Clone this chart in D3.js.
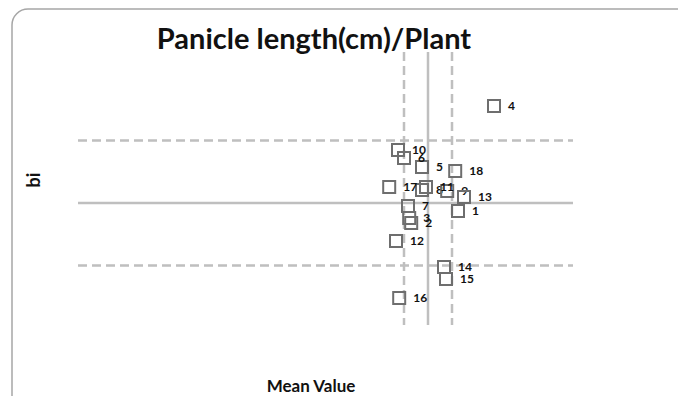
<!DOCTYPE html>
<html>
<head>
<meta charset="utf-8">
<title>Panicle length(cm)/Plant</title>
<script src="https://cdn.jsdelivr.net/npm/d3@7"></script>
<style>
  * { margin: 0; padding: 0; }
  body { background: #fff; }
  text { font-family: Lato, "Open Sans", sans-serif; font-weight: bold; fill: #111; }
</style>
</head>
<body>
<div id="chart"></div>
<script>
// genotypes, their mean panicle length and regression coefficient (bi)
var genotypes = ["1","2","3","4","5","6","7","8","9","10","11","12","13","14","15","16","17","18"];
var meanVals  = [26.75,25.58,25.53,27.65,25.85,25.40,25.50,25.85,26.48,25.25,25.95,25.20,26.90,26.40,26.45,25.28,25.03,26.68];
var biVals    = [0.936,0.840,0.880,1.776,1.288,1.360,0.976,1.104,1.096,1.424,1.128,0.696,1.048,0.488,0.392,0.240,1.128,1.256];

// reference lines: grand mean +/- SE, bi = 1 +/- 0.5
var grandMean = 26.0, meanSE = 0.6;
var biRef = 1.0, biSE = 0.5;

var W = 678, H = 396;
var pLeft = 78, pRight = 573, pTop = 52, pBottom = 325;

var svg = d3.select("#chart").append("svg")
    .attr("width", W).attr("height", H);

// rounded frame
svg.append("rect")
    .attr("x", 12).attr("y", 9)
    .attr("width", 680).attr("height", 420)
    .attr("rx", 16)
    .attr("fill", "none").attr("stroke", "#a6a6a6").attr("stroke-width", 1.5);

var x = d3.scaleLinear().domain([17.25, 29.625]).range([pLeft, pRight]);
var y = d3.scaleLinear().domain([0.024, 2.208]).range([pBottom, pTop]);

var g = svg.append("g");

// vertical lines
[grandMean - meanSE, grandMean, grandMean + meanSE].forEach(function(v, i){
  g.append("line")
    .attr("x1", x(v)).attr("x2", x(v))
    .attr("y1", pTop).attr("y2", pBottom)
    .attr("stroke", "#bfbfbf").attr("stroke-width", 2.5)
    .attr("stroke-dasharray", i == 1 ? null : "9,5");
});
// horizontal lines
[biRef + biSE, biRef, biRef - biSE].forEach(function(v, i){
  g.append("line")
    .attr("x1", pLeft).attr("x2", pRight)
    .attr("y1", y(v)).attr("y2", y(v))
    .attr("stroke", "#bfbfbf").attr("stroke-width", 2.5)
    .attr("stroke-dasharray", i == 1 ? null : "9,5");
});

var pts = genotypes.map(function(d, i){ return {id: d, mx: meanVals[i], bi: biVals[i]}; });

var node = g.selectAll(".pt").data(pts).enter().append("g")
    .attr("class", "pt")
    .attr("transform", function(d){ return "translate(" + x(d.mx) + "," + y(d.bi) + ")"; });

node.append("rect")
    .attr("x", -6).attr("y", -6).attr("width", 12).attr("height", 12)
    .attr("fill", "none").attr("stroke", "#6e6e6e").attr("stroke-width", 2);

node.append("text")
    .attr("x", 14).attr("dy", "0.35em")
    .style("font-size", "12px")
    .text(function(d){ return d.id; });

// titles
svg.append("text")
    .attr("x", 314).attr("y", 49)
    .attr("text-anchor", "middle")
    .style("font-size", "29px")
    .text("Panicle length(cm)/Plant");

svg.append("text")
    .attr("transform", "translate(40,180) rotate(-90)")
    .attr("text-anchor", "middle")
    .style("font-size", "18px")
    .text("bi");

svg.append("text")
    .attr("x", 311).attr("y", 392)
    .attr("text-anchor", "middle")
    .style("font-size", "17px")
    .text("Mean Value");
</script>
</body>
</html>
